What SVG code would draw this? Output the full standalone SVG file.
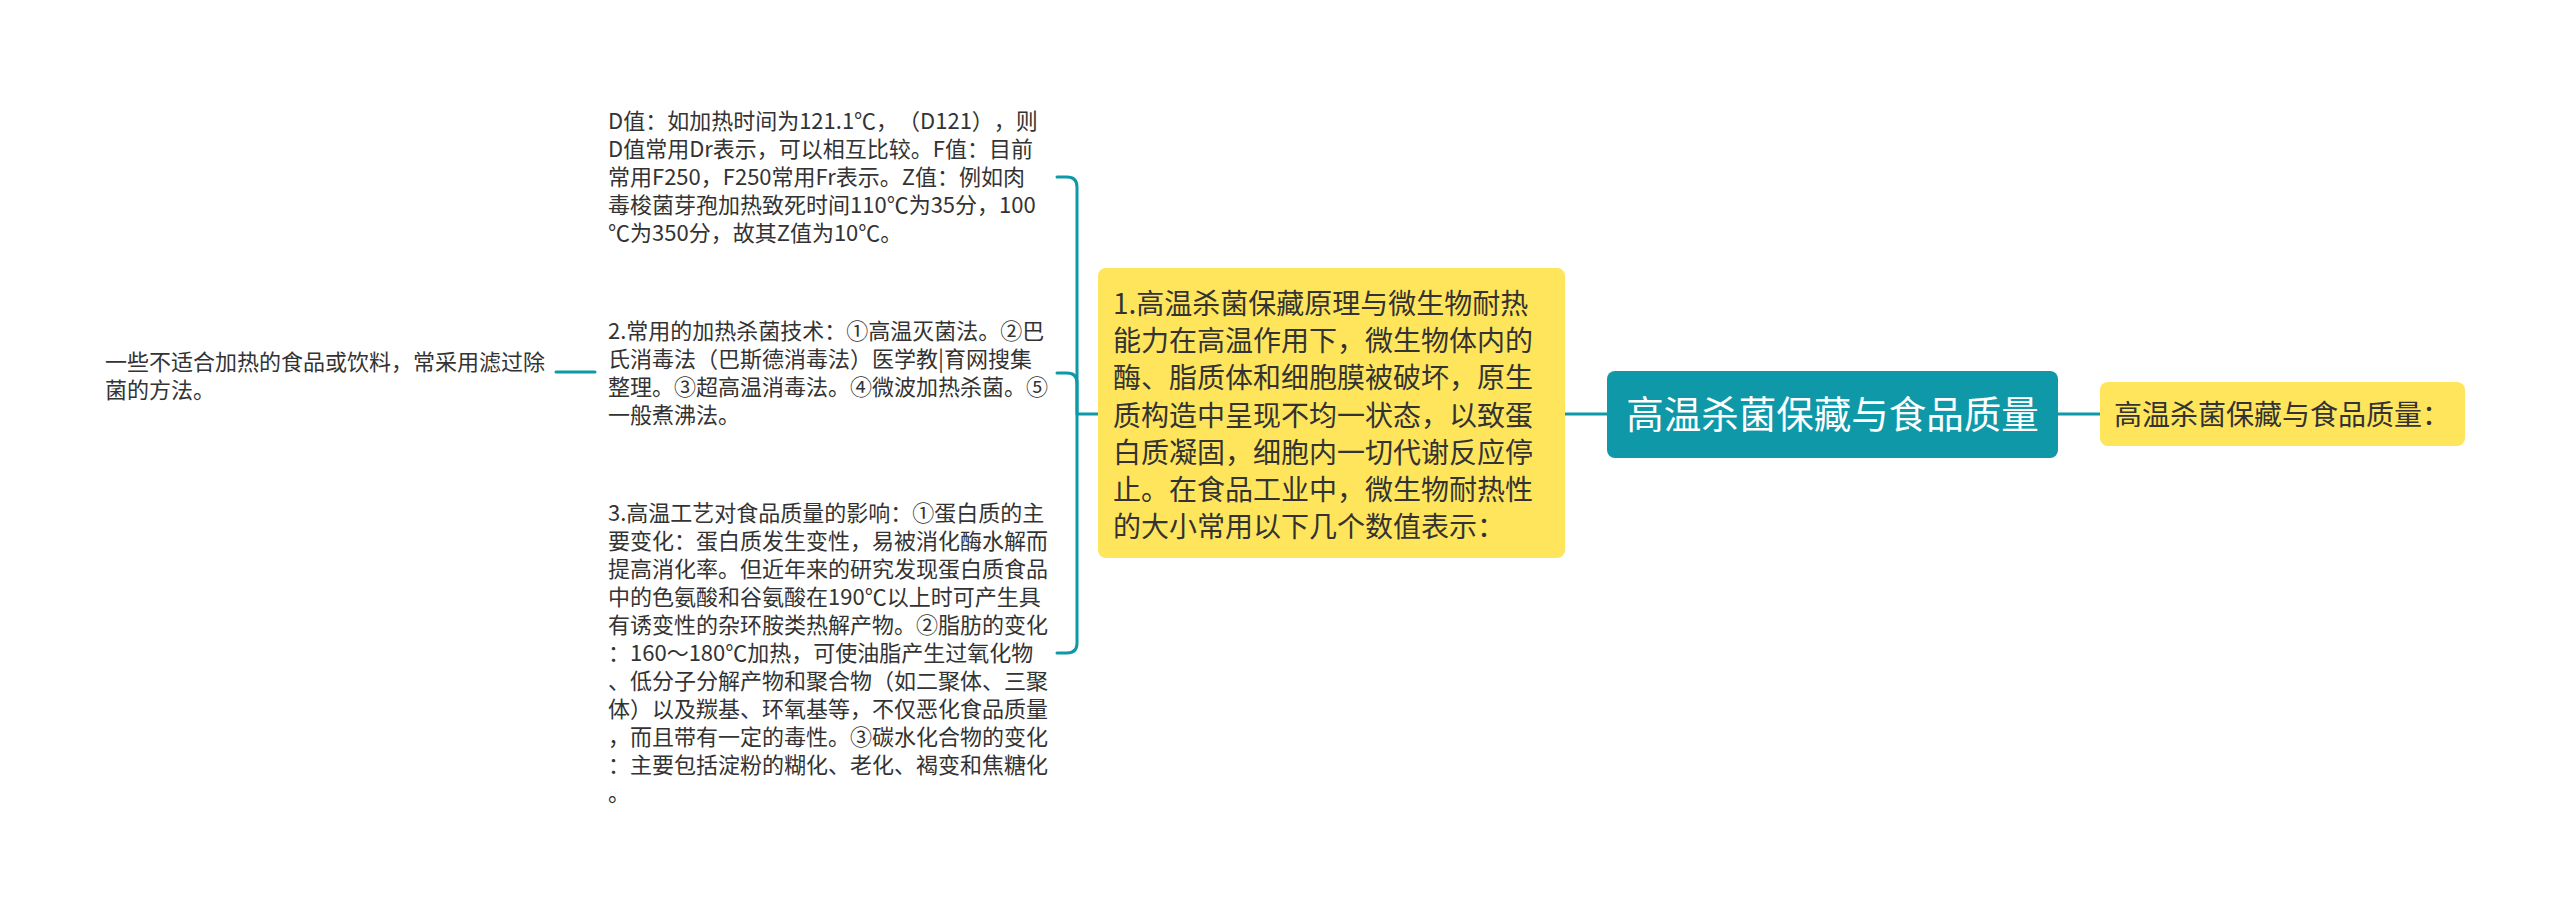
<svg xmlns="http://www.w3.org/2000/svg" width="2560" height="913" viewBox="0 0 2560 913">
<style>
text{text-spacing-trim:space-all}
.t{font-family:"Noto Sans CJK SC","Noto Sans",sans-serif;fill:#333333}
.s22{font-size:22px}
.s28{font-size:28px}
.c{fill:none;stroke:#0F99A8;stroke-width:3;stroke-linecap:round;stroke-linejoin:round}
.yl{fill:#FFE55C}
.tl{fill:#0F99A8}
</style>
<rect width="2560" height="913" fill="#ffffff"/>
<g id="connectors">
<path class="c" d="M1057,177 H1067 Q1077,177 1077,187 V643 Q1077,653 1067,653 H1057"/>
<path class="c" d="M1057,373 H1067 Q1077,373 1077,383 V414 H1098"/>
<path class="c" d="M556,372 H595"/>
<path class="c" d="M1565,414 H1607"/>
<path class="c" d="M2058,414 H2100"/>
</g>
<g id="root">
<rect class="tl" x="1607" y="371" width="451" height="87" rx="8"/>
<text x="1832.5" y="428" text-anchor="middle" style="font-family:'Noto Sans CJK SC','Noto Sans',sans-serif;font-size:37.5px;fill:#ffffff">高温杀菌保藏与食品质量</text>
</g>
<g id="right-node">
<rect class="yl" x="2100" y="382" width="365" height="64" rx="8"/>
<text class="t s28" x="2114" y="425">高温杀菌保藏与食品质量：</text>
</g>
<g id="main-node">
<rect class="yl" x="1098" y="268" width="467" height="290" rx="8"/>
<text class="t s28" x="1113" y="314">
<tspan x="1113" dy="0">1.高温杀菌保藏原理与微生物耐热</tspan>
<tspan x="1113" dy="37.2">能力在高温作用下，微生物体内的</tspan>
<tspan x="1113" dy="37.2">酶、脂质体和细胞膜被破坏，原生</tspan>
<tspan x="1113" dy="37.2">质构造中呈现不均一状态，以致蛋</tspan>
<tspan x="1113" dy="37.2">白质凝固，细胞内一切代谢反应停</tspan>
<tspan x="1113" dy="37.2">止。在食品工业中，微生物耐热性</tspan>
<tspan x="1113" dy="37.2">的大小常用以下几个数值表示：</tspan>
</text>
</g>
<g id="child-values">
<text class="t s22" x="608" y="129">
<tspan x="608" dy="0">D值：如加热时间为121.1℃，（D121），则</tspan>
<tspan x="608" dy="28">D值常用Dr表示，可以相互比较。F值：目前</tspan>
<tspan x="608" dy="28">常用F250，F250常用Fr表示。Z值：例如肉</tspan>
<tspan x="608" dy="28">毒梭菌芽孢加热致死时间110℃为35分，100</tspan>
<tspan x="608" dy="28">℃为350分，故其Z值为10℃。</tspan>
</text>
</g>
<g id="child-techniques">
<text class="t s22" x="608" y="339">
<tspan x="608" dy="0">2.常用的加热杀菌技术：①高温灭菌法。②巴</tspan>
<tspan x="608" dy="28">氏消毒法（巴斯德消毒法）医学教|育网搜集</tspan>
<tspan x="608" dy="28">整理。③超高温消毒法。④微波加热杀菌。⑤</tspan>
<tspan x="608" dy="28">一般煮沸法。</tspan>
</text>
</g>
<g id="child-quality">
<text class="t s22" x="608" y="521">
<tspan x="608" dy="0">3.高温工艺对食品质量的影响：①蛋白质的主</tspan>
<tspan x="608" dy="28">要变化：蛋白质发生变性，易被消化酶水解而</tspan>
<tspan x="608" dy="28">提高消化率。但近年来的研究发现蛋白质食品</tspan>
<tspan x="608" dy="28">中的色氨酸和谷氨酸在190℃以上时可产生具</tspan>
<tspan x="608" dy="28">有诱变性的杂环胺类热解产物。②脂肪的变化</tspan>
<tspan x="608" dy="28">：160～180℃加热，可使油脂产生过氧化物</tspan>
<tspan x="608" dy="28">、低分子分解产物和聚合物（如二聚体、三聚</tspan>
<tspan x="608" dy="28">体）以及羰基、环氧基等，不仅恶化食品质量</tspan>
<tspan x="608" dy="28">，而且带有一定的毒性。③碳水化合物的变化</tspan>
<tspan x="608" dy="28">：主要包括淀粉的糊化、老化、褐变和焦糖化</tspan>
<tspan x="608" dy="28">。</tspan>
</text>
</g>
<g id="child-filter">
<text class="t s22" x="105" y="370">
<tspan x="105" dy="0">一些不适合加热的食品或饮料，常采用滤过除</tspan>
<tspan x="105" dy="28">菌的方法。</tspan>
</text>
</g>
</svg>
